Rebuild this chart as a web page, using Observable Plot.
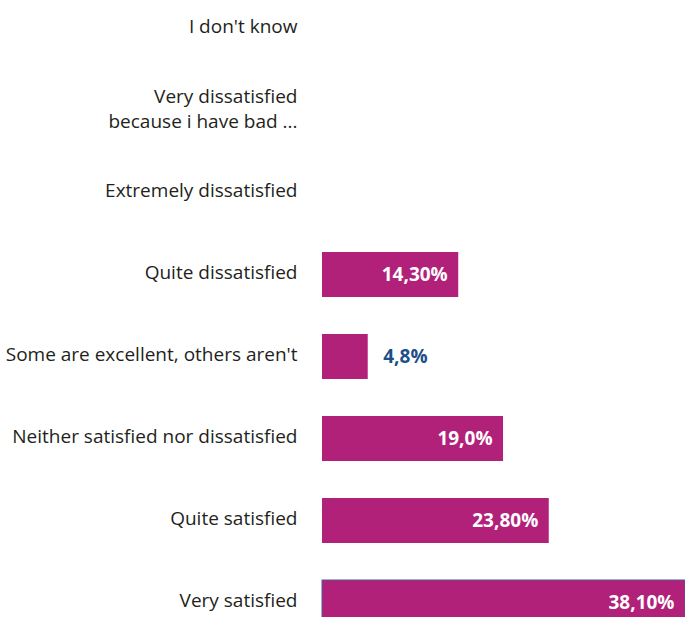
<!DOCTYPE html>
<html>
<head>
<meta charset="utf-8">
<script src="https://cdn.jsdelivr.net/npm/d3@7"></script>
<script src="https://cdn.jsdelivr.net/npm/@observablehq/plot@0.6"></script>
<style>
  html, body { margin: 0; padding: 0; background: #fff; }
  #chart svg { display: block; }
</style>
</head>
<body>
<div id="chart"></div>
<script>
const categories = [
  "I don't know",
  "Very dissatisfied\nbecause i have bad ...",
  "Extremely dissatisfied",
  "Quite dissatisfied",
  "Some are excellent, others aren't",
  "Neither satisfied nor dissatisfied",
  "Quite satisfied",
  "Very satisfied"
];
const values = [null, null, null, 14.30, 4.8, 19.0, 23.80, 38.10];
const valueLabels = ["", "", "", "14,30%", "4,8%", "19,0%", "23,80%", "38,10%"];
const outsideLabel = [false, false, false, false, true, false, false, false];

const data = categories.map((c, i) => ({
  category: c, value: values[i], label: valueLabels[i], outside: outsideLabel[i]
}));
const bars = data.filter(d => d.value != null);

const barColor = "#B22179";

const chart = Plot.plot({
  width: 685,
  height: 617,
  marginLeft: 322,
  marginRight: 0,
  marginTop: 0,
  marginBottom: 0,
  style: { fontFamily: "'Open Sans', Lato, sans-serif", background: "#fff" },
  x: { domain: [0, 38.1], axis: null },
  y: { domain: categories, range: [5.5, 626.2], paddingInner: 0.453, paddingOuter: 0, axis: null },
  marks: [
    Plot.barX(bars, { y: "category", x: "value", fill: barColor }),
    Plot.barX(bars.filter(d => d.category === "Very satisfied"), {
      y: "category", x: "value", fill: "none", stroke: "#4b5a9c", strokeWidth: 1
    }),
    Plot.axisY({
      tickSize: 0, tickPadding: 25, fontSize: 19, lineHeight: 1.32,
      label: null, fill: "#231F20", dy: -4
    }),
    Plot.text(bars.filter(d => !d.outside), {
      y: "category", x: "value", text: "label", textAnchor: "end", dx: -11, dy: 0,
      fill: "white", fontWeight: "bold", fontSize: 19
    }),
    Plot.text(bars.filter(d => d.outside), {
      y: "category", x: "value", text: "label", textAnchor: "start", dx: 15, dy: 0,
      fill: "#1D4F8A", fontWeight: "bold", fontSize: 19
    })
  ]
});
document.getElementById("chart").appendChild(chart);
</script>
</body>
</html>
